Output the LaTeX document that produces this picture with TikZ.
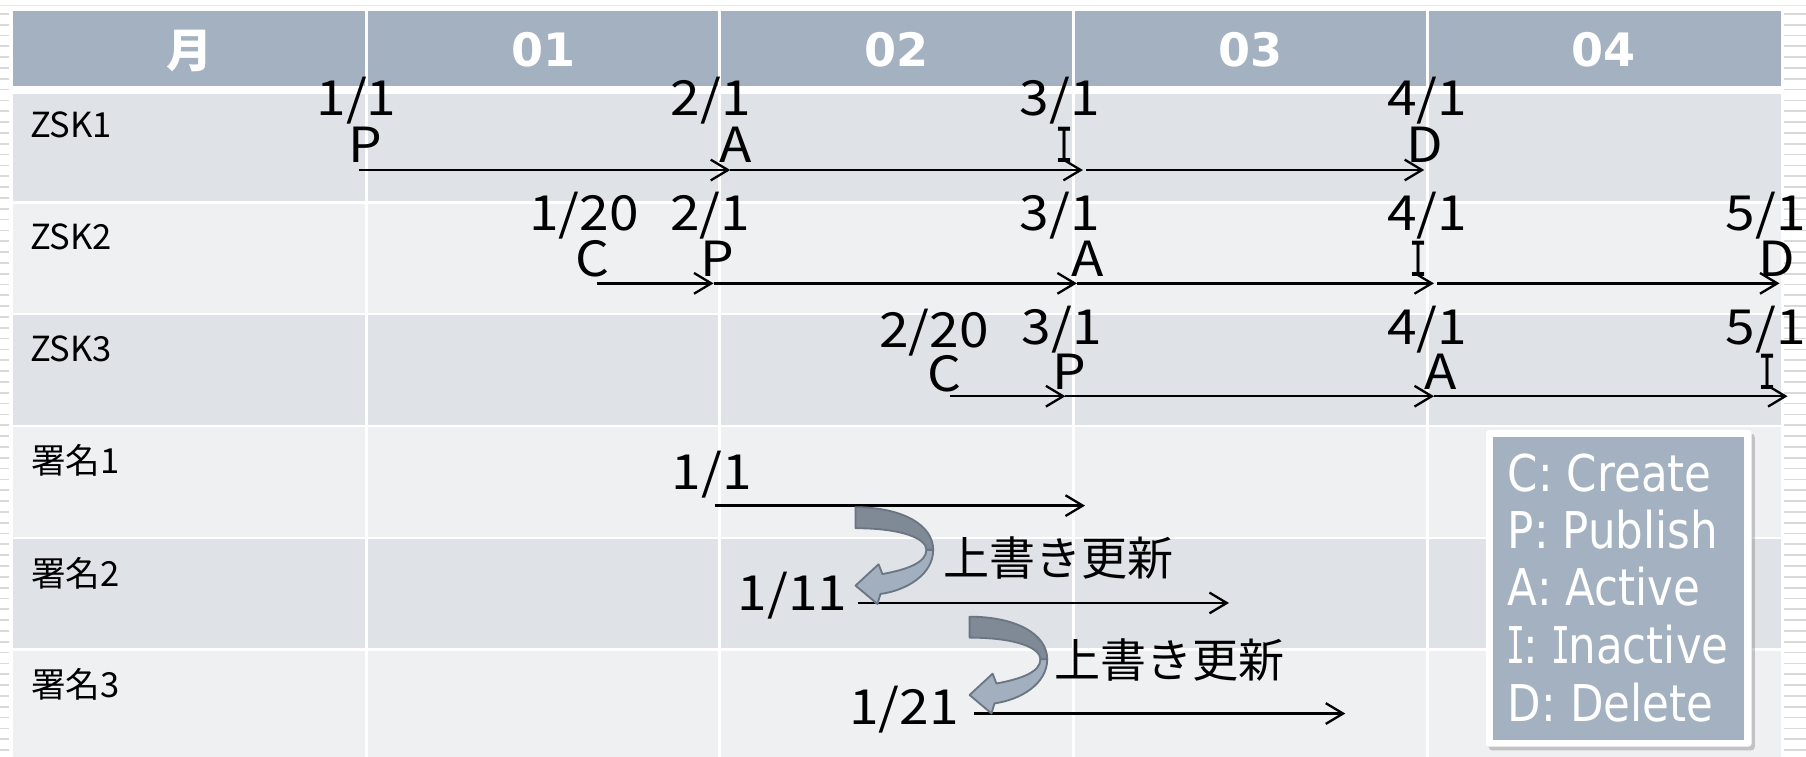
\documentclass[tikz,border=0pt]{standalone}
\usepackage{fontspec}
\usetikzlibrary{arrows.meta}
\newfontfamily\jpf{Noto Sans CJK JP}
\newfontfamily\datef[FakeStretch=1.1]{Noto Sans CJK JP}
\newfontfamily\hdf{DejaVu Sans}
\newfontfamily\lgf[FakeStretch=0.86]{DejaVu Sans}
\newfontfamily\serI[FakeStretch=0.62]{DejaVu Sans Mono}
\definecolor{hdrc}{RGB}{163,177,192}
\definecolor{rowa}{RGB}{223,226,231}
\definecolor{rowb}{RGB}{239,240,242}
\definecolor{arrdark}{RGB}{127,138,150}
\definecolor{arrlight}{RGB}{161,175,191}
\definecolor{arredge}{RGB}{108,118,130}
\definecolor{stripec}{RGB}{217,217,217}
\tikzset{
  datelbl/.style={anchor=base, inner sep=0pt, font=\datef\fontsize{42}{46}\selectfont},
  rowlbl/.style={anchor=base west, inner sep=0pt, font=\jpf\fontsize{30}{34}\selectfont},
  hdr/.style={anchor=base, inner sep=0pt, text=white, font=\hdf\bfseries\fontsize{40}{44}\selectfont},
  hdrjp/.style={anchor=base, inner sep=0pt, text=white, font=\jpf\bfseries\fontsize{40}{44}\selectfont},
  lgd/.style={anchor=base west, inner sep=0pt, text=white, font=\lgf\fontsize{44}{48}\selectfont},
  upd/.style={anchor=base west, inner sep=0pt, font=\jpf\fontsize{40}{44}\selectfont},
  tl/.style={draw=black, line width=2pt, -{Straight Barb[length=15pt,width=18pt]}},
  gridline/.style={white, line width=2.5pt},
  updarrow/.pic={
    \filldraw[fill=arrdark, draw=arredge, line width=1.6pt, line join=round]
      (0,0) .. controls (40,0) and (67.4,15) .. (67.4,37) -- (61.5,37)
      .. controls (61.5,27) and (40,18.2) .. (0,18.2) -- cycle;
    \filldraw[fill=arrlight, draw=arredge, line width=1.6pt, line join=round]
      (67.4,37) .. controls (67.4,58) and (45,72) .. (21.6,75.3) -- (19,84) -- (0,68)
      -- (20,49.5) -- (23.3,58) .. controls (45,54) and (61.5,48) .. (61.5,37) -- cycle;
  }
}
\begin{document}
\begin{tikzpicture}[x=1pt,y=-1pt]
\fill[white] (0,0) rectangle (1568,657);
\useasboundingbox (0,0) rectangle (1568,657);
% margin stripes
\draw[stripec!60, line width=1.2pt] (0,5) -- (1568,5);
\foreach \yy in {12,21.4,...,657} {
  \draw[stripec, line width=1.5pt] (0,\yy) -- (8,\yy);
  \draw[stripec, line width=1.5pt] (1549,\yy) -- (1568,\yy);
}
% table
\fill[hdrc] (11,9.6) rectangle (1546,74.7);
\fill[rowa] (11,81.5) rectangle (1546,174.5);
\fill[rowb] (11,176.8) rectangle (1546,271.6);
\fill[rowa] (11,273.9) rectangle (1546,368.7);
\fill[rowb] (11,371) rectangle (1546,465.8);
\fill[rowa] (11,468.1) rectangle (1546,562.9);
\fill[rowb] (11,565.2) rectangle (1546,657);
\foreach \xx in {318,625,932,1239} { \draw[gridline] (\xx,9.6) -- (\xx,657); }
% header
\node[hdrjp] (hm) at (164.5,59) {月};
\node[hdr] (h1) at (471.5,57.9) {01};
\node[hdr] (h2) at (778.5,57.9) {02};
\node[hdr] (h3) at (1085.5,57.9) {03};
\node[hdr] (h4) at (1392.5,57.9) {04};
% row labels
\node[rowlbl] (r1) at (26,119.5) {ZSK1};
\node[rowlbl] (r2) at (26,217) {ZSK2};
\node[rowlbl] (r3) at (26,314) {ZSK3};
\node[rowlbl] (r4) at (27,411.5) {署名1};
\node[rowlbl] (r5) at (27,509) {署名2};
\node[rowlbl] (r6) at (27,606) {署名3};
% arrow end points
\coordinate (k1s) at (311.6,147.6);
\coordinate (k1a) at (634,147.6);
\coordinate (k1i) at (940.2,147.6);
\coordinate (k1j) at (943,147.6);
\coordinate (k1d) at (1236.5,147.6);
\coordinate (k2c) at (518,246);
\coordinate (k2p) at (619.5,246);
\coordinate (k2a) at (935,246);
\coordinate (k2i) at (1245,246);
\coordinate (k2j) at (1248,246);
\coordinate (k2d) at (1545,246);
\coordinate (k3c) at (825,344);
\coordinate (k3p) at (925,344);
\coordinate (k3a) at (1245,344);
\coordinate (k3i) at (1552,344);
\coordinate (s1a) at (621,439);
\coordinate (s1b) at (942,439);
\coordinate (s2a) at (744.5,523.5);
\coordinate (s2b) at (1067,523.5);
\coordinate (s3a) at (845.8,619.5);
\coordinate (s3b) at (1168,619.5);
\draw[tl] (k1s) -- (k1a);
\draw[tl] (k1a) -- (k1i);
\draw[tl] (k1j) -- (k1d);
\draw[tl] (k2c) -- (k2p);
\draw[tl] (k2p) -- (k2a);
\draw[tl] (k2a) -- (k2i);
\draw[tl] (k2j) -- (k2d);
\draw[tl] (k3c) -- (k3p);
\draw[tl] (k3p) -- (k3a);
\draw[tl] (k3a) -- (k3i);
\draw[tl] (s1a) -- (s1b);
\draw[tl] (s2a) -- (s2b);
\draw[tl] (s3a) -- (s3b);
% ZSK1 events
\node[datelbl] (z1d1) at (309.5,100) {1/1};
\node[datelbl] (z1l1) at (317,141) {P};
\node[datelbl] (z1d2) at (617,100) {2/1};
\node[datelbl] (z1l2) at (638.5,141) {A};
\node[datelbl] (z1d3) at (920,100) {3/1};
\node[datelbl] (z1l3) at (924.5,141) {\serI I};
\node[datelbl] (z1d4) at (1239,100) {4/1};
\node[datelbl] (z1l4) at (1237,141) {D};
% ZSK2 events
\node[datelbl] (z2d1) at (507,200) {1/20};
\node[datelbl] (z2l1) at (514.5,240.2) {C};
\node[datelbl] (z2d2) at (616.6,200) {2/1};
\node[datelbl] (z2l2) at (622.5,240.2) {P};
\node[datelbl] (z2d3) at (920,200) {3/1};
\node[datelbl] (z2l3) at (944,240.2) {A};
\node[datelbl] (z2d4) at (1239,200) {4/1};
\node[datelbl] (z2l4) at (1232,240.2) {\serI I};
\node[datelbl] (z2d5) at (1533,200) {5/1};
\node[datelbl] (z2l5) at (1543,240.2) {D};
% ZSK3 events
\node[datelbl] (z3d1) at (811,301.5) {2/20};
\node[datelbl] (z3l1) at (820,340) {C};
\node[datelbl] (z3d2) at (922,299.5) {3/1};
\node[datelbl] (z3l2) at (928.5,338.5) {P};
\node[datelbl] (z3d3) at (1239,299.5) {4/1};
\node[datelbl] (z3l3) at (1251,338.5) {A};
\node[datelbl] (z3d4) at (1533,299.5) {5/1};
\node[datelbl] (z3l4) at (1535,338.5) {\serI I};
% signatures
\node[datelbl] (g1) at (618,425) {1/1};
\node[datelbl] (g2) at (688,530) {1/11};
\node[datelbl] (g3) at (785,629.4) {1/21};
% overwrite arrows
\pic at (742.8,440.4) {updarrow};
\pic at (841.8,535.4) {updarrow};
\node[upd] (u1) at (819,499.5) {上書き更新};
\node[upd] (u2) at (915,588) {上書き更新};
% legend
\fill[black!45, opacity=0.45, rounded corners=3pt] (1292.5,376.5) rectangle (1523.5,651.5);
\fill[white, rounded corners=3pt] (1290.2,373.3) rectangle (1520.8,648.3);
\fill[hdrc] (1296.5,379.7) rectangle (1514.2,642.5);
\node[lgd] (lc) at (1309,427) {C: Create};
\node[lgd] (lp) at (1309,476) {P: Publish};
\node[lgd] (la) at (1309,525.5) {A: Active};
\node[lgd] (li) at (1308,576) {{\serI I}\kern-2pt: {\serI I}\kern-2pt nactive};
\node[lgd] (ld) at (1309,626.5) {D: Delete};
\end{tikzpicture}
\end{document}
